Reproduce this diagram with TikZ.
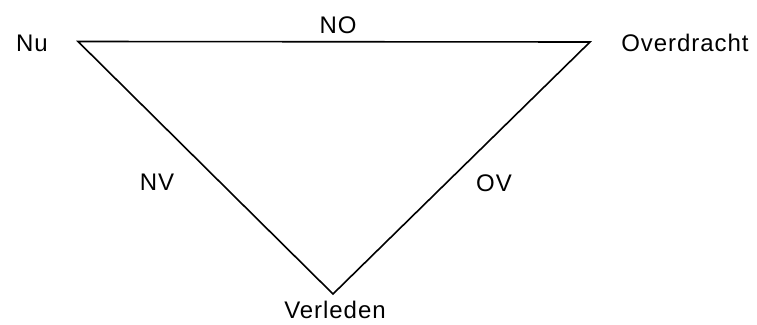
\documentclass[tikz,border=0pt]{standalone}
\usepackage{fontspec}
\setmainfont{Liberation Sans}[LetterSpace=4]
\usepackage{tikz}
\tikzset{lbl/.style={font=\fontsize{24}{28}\selectfont,inner sep=0pt},edge/.style={line width=1.6pt,line join=miter}}

\begin{document}
\begin{tikzpicture}[x=1pt,y=-1pt]
\useasboundingbox (0,0) rectangle (757,324);
\coordinate (nuPt) at (78,41.5);
\coordinate (ovPt) at (590,42);
\coordinate (vlPt) at (333,294);
\node[lbl] (nu) at (32,43) {Nu};
\node[lbl] (ov) at (685,43) {Overdracht};
\node[lbl] (vl) at (335,310) {Verleden};
\node[lbl] (no) at (338,25) {NO};
\node[lbl] (nv) at (157,182) {NV};
\node[lbl] (ovl) at (494,183) {OV};
\draw[edge] (nuPt) -- (ovPt) -- (vlPt) -- cycle;
\end{tikzpicture}
\end{document}
